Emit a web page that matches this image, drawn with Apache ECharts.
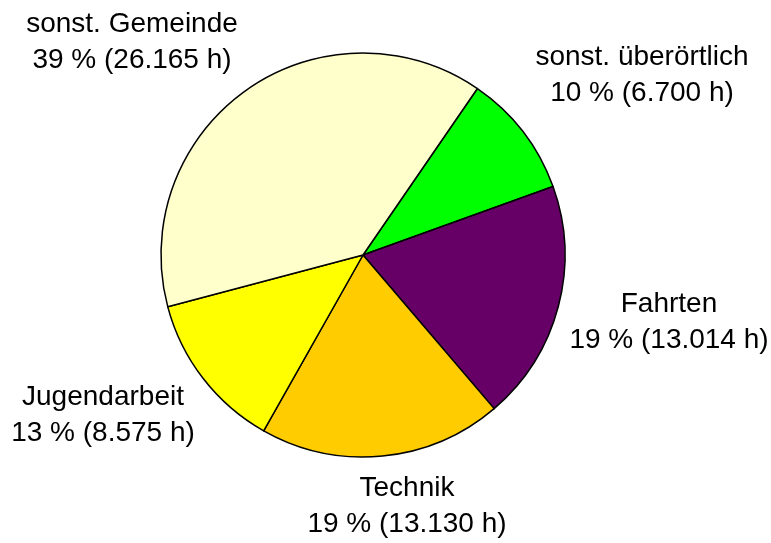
<!DOCTYPE html>
<html>
<head>
<meta charset="utf-8">
<script src="https://cdn.jsdelivr.net/npm/echarts@6/dist/echarts.min.js"></script>
<style>
  html, body { margin: 0; padding: 0; background: #fff; }
  #main { width: 771px; height: 543px; }
</style>
</head>
<body>
<div id="main"></div>
<script>
// data
var categories = ['sonst. überörtlich', 'Fahrten', 'Technik', 'Jugendarbeit', 'sonst. Gemeinde'];
var hours = [6700, 13014, 13130, 8575, 26165];

var colors = ['#00FF00', '#660066', '#FFCC00', '#FFFF00', '#FFFFCC'];
var pieCenter = [363, 255];
// label block centre, offset from the pie centre
var labelOffsets = [[279, -180], [306, 67], [44, 251], [-260, 160], [-231, -213]];

// 26165 -> 26.165
function fmtHours(v) {
  return String(v).replace(/\B(?=(\d{3})+(?!\d))/g, '.');
}

var chart = echarts.init(document.getElementById('main'));

chart.setOption({
  animation: false,
  backgroundColor: '#fff',
  series: [{
    type: 'pie',
    center: pieCenter,
    radius: 202,
    startAngle: 55.5,
    clockwise: true,
    avoidLabelOverlap: false,
    silent: true,
    emphasis: { disabled: true },
    itemStyle: {
      borderColor: '#000',
      borderWidth: 1.5
    },
    label: {
      show: true,
      position: 'outside',
      formatter: function (p) {
        return '{t|' + p.name + '}\n{t|' + Math.round(p.percent) + ' % (' + fmtHours(p.value) + ' h)}';
      },
      rich: {
        t: {
          fontFamily: 'Liberation Sans, Arial, sans-serif',
          fontSize: 28,
          lineHeight: 36,
          color: '#000',
          align: 'center'
        }
      }
    },
    labelLine: { show: false },
    labelLayout: function (params) {
      var off = labelOffsets[params.dataIndex];
      return {
        x: pieCenter[0] + off[0],
        y: pieCenter[1] + off[1],
        align: 'center',
        verticalAlign: 'middle'
      };
    },
    data: categories.map(function (name, i) {
      return { name: name, value: hours[i], itemStyle: { color: colors[i] } };
    })
  }]
});
</script>
</body>
</html>
